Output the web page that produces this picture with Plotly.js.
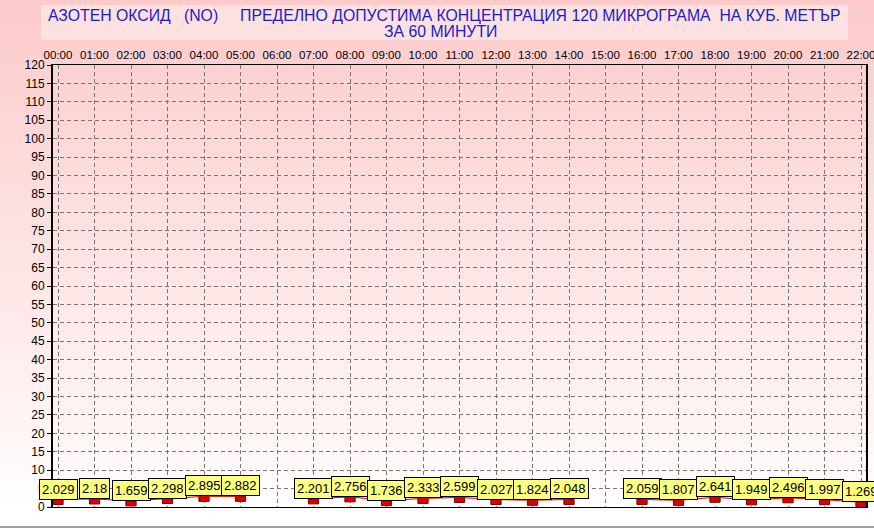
<!DOCTYPE html>
<html>
<head>
<meta charset="utf-8">
<script src="https://cdn.plot.ly/plotly-3.0.1.min.js"></script>
<style>
  html, body { margin: 0; padding: 0; background: #ffffff; }
  #wrap { position: relative; width: 874px; height: 529px;
    background: linear-gradient(to bottom, #fccaca 0%, #fde2e2 45%, #fff4f4 80%, #ffffff 96%, #ffffff 100%); }
  #chart { width: 874px; height: 529px; }
  #base { position: absolute; left: 0; top: 526px; width: 874px; height: 2px; background: #a0a0a0; }
</style>
</head>
<body>
<div id="wrap"><div id="chart"></div><div id="base"></div></div>
<script>
// ---- data ----
const hours = ["00:00","01:00","02:00","03:00","04:00","05:00","06:00","07:00","08:00","09:00","10:00","11:00",
               "12:00","13:00","14:00","15:00","16:00","17:00","18:00","19:00","20:00","21:00","22:00"];
const values = [2.029, 2.18, 1.659, 2.298, 2.895, 2.882, null, 2.201, 2.756, 1.736, 2.333, 2.599,
                2.027, 1.824, 2.048, null, 2.059, 1.807, 2.641, 1.949, 2.496, 1.997, 1.269];
const titleLine1 = "АЗОТЕН ОКСИД   (NO)     ПРЕДЕЛНО ДОПУСТИМА КОНЦЕНТРАЦИЯ 120 МИКРОГРАМА  НА КУБ. МЕТЪР";
const titleLine2 = "ЗА 60 МИНУТИ";
const yTicks = [0,5,10,15,20,25,30,35,40,45,50,55,60,65,70,75,80,85,90,95,100,105,110,115,120];

// ---- build ----
const xIdx = hours.map((h, i) => i);
const markH = 1.36;
const present = xIdx.filter(i => values[i] !== null);

const lineTrace = {
  type: 'scatter', mode: 'lines', x: xIdx, y: values,
  line: { color: '#e00000', width: 1 }, connectgaps: false, hoverinfo: 'skip', showlegend: false
};
const markTrace = {
  type: 'bar', x: present, y: present.map(() => markH), base: present.map(i => values[i] - markH),
  width: 0.28, marker: { color: '#dd0000', line: { color: '#7a0000', width: 1 } },
  hoverinfo: 'skip', showlegend: false
};

const annotations = present.map(i => ({
  x: i, y: values[i], xref: 'x', yref: 'y', text: String(values[i]),
  showarrow: false, xanchor: 'center', yanchor: 'bottom',
  bgcolor: '#ffff80', bordercolor: '#000000', borderwidth: 1, borderpad: 2,
  font: { family: 'Arial, Liberation Sans, sans-serif', size: 13, color: '#000000' }
}));
annotations.push({
  xref: 'paper', yref: 'paper', x: 0.481, y: 1.1109, text: titleLine1, showarrow: false,
  xanchor: 'center', yanchor: 'middle',
  font: { family: 'Arial, Liberation Sans, sans-serif', size: 15.8, color: '#1c1cc8' }
});
annotations.push({
  xref: 'paper', yref: 'paper', x: 0.477, y: 1.0747, text: titleLine2, showarrow: false,
  xanchor: 'center', yanchor: 'middle',
  font: { family: 'Arial, Liberation Sans, sans-serif', size: 15.8, color: '#1c1cc8' }
});

const layout = {
  width: 874, height: 529,
  margin: { l: 53, r: 8, t: 65, b: 22, pad: 0 },
  paper_bgcolor: 'rgba(0,0,0,0)', plot_bgcolor: 'rgba(0,0,0,0)',
  showlegend: false, barmode: 'overlay',
  font: { family: 'Arial, Liberation Sans, sans-serif', size: 12, color: '#000000' },
  xaxis: {
    side: 'top', range: [-0.137, 22.137], tickmode: 'array', tickvals: xIdx, ticktext: hours,
    showgrid: true, gridcolor: '#807070', griddash: '4px,3px', gridwidth: 1,
    showline: true, linecolor: '#000000', linewidth: 1, mirror: true,
    ticks: '', zeroline: false, fixedrange: true, ticklabeloverflow: 'allow',
    tickfont: { size: 11.5, color: '#000000' }
  },
  yaxis: {
    range: [0, 120], tickmode: 'array', tickvals: yTicks,
    showgrid: true, gridcolor: '#807070', griddash: '4px,3px', gridwidth: 1,
    showline: true, linecolor: '#000000', linewidth: 2, mirror: true,
    ticks: 'outside', ticklen: 4, tickcolor: '#000000', zeroline: false, fixedrange: true,
    tickfont: { size: 12, color: '#000000' }
  },
  shapes: [{
    type: 'rect', xref: 'paper', yref: 'paper', x0: -0.0148, x1: 0.978, y0: 1.0566, y1: 1.1357,
    fillcolor: '#fde0e0', line: { width: 0 }, layer: 'below'
  }],
  annotations: annotations
};

Plotly.newPlot('chart', [lineTrace, markTrace], layout, { displayModeBar: false, staticPlot: true });
</script>
</body>
</html>
